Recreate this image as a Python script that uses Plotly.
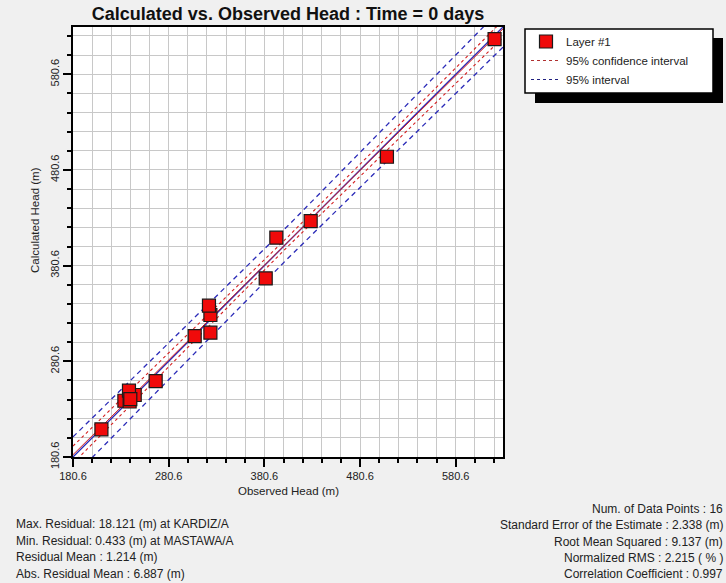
import plotly.graph_objects as go

# ---------------- data ----------------
observed = [210.3, 234.3, 239.8, 245.1, 239.1, 267.0, 307.8, 324.2, 324.2, 322.7,
            382.0, 393.1, 429.0, 508.7, 621.2, 240.5]
calculated = [209.5, 239.4, 238.6, 245.4, 249.9, 260.0, 307.0, 310.5, 329.0, 338.7,
              367.3, 409.8, 427.2, 494.4, 617.4, 241.0]

axis_min = 180.6
axis_max = 630.0
tick_vals = [180.6, 280.6, 380.6, 480.6, 580.6]
tick_text = ["180.6", "280.6", "380.6", "480.6", "580.6"]

# reference lines (x positions and offsets from the 1:1 line)
line_x = [180.6, 405.0, 630.0]
regression_y = [183.0, 405.5, 628.0]
conf_offset = [9.0, 5.0, 9.0]        # 95% confidence interval
interval_offset = [21.0, 17.0, 21.0]  # 95% interval

stats_left = ["Max. Residual: 18.121 (m) at KARDIZ/A",
              "Min. Residual: 0.433 (m) at MASTAWA/A",
              "Residual Mean : 1.214 (m)",
              "Abs. Residual Mean : 6.887 (m)"]
stats_right = ["Num. of Data Points : 16",
               "Standard Error of the Estimate : 2.338 (m)",
               "Root Mean Squared : 9.137 (m)",
               "Normalized RMS : 2.215 ( % )",
               "Correlation Coefficient : 0.997"]

# ---------------- layout geometry ----------------
W, H = 726, 583
L, R, T, B = 73, 503, 27, 457
PW, PH = R - L, B - T

def px(x):
    return (x - L) / PW

def py(y):
    return (B - y) / PH

FONT = "Arial, Liberation Sans, sans-serif"
BLUE = "#2b2bb8"
RED = "#d42020"

fig = go.Figure()

# 95% interval (blue dashed)
for sgn in (1, -1):
    fig.add_trace(go.Scatter(
        x=line_x, y=[x + sgn * o for x, o in zip(line_x, interval_offset)],
        mode="lines", line=dict(color=BLUE, width=1.3, dash="5px,4px"),
        name="95% interval", showlegend=False, hoverinfo="skip"))
# 95% confidence interval (red dashed)
for sgn in (1, -1):
    fig.add_trace(go.Scatter(
        x=line_x, y=[y + sgn * o for y, o in zip(regression_y, conf_offset)],
        mode="lines", line=dict(color=RED, width=1.1, dash="3px,3px"),
        name="95% confidence interval", showlegend=False, hoverinfo="skip"))
# 1:1 line and regression
fig.add_trace(go.Scatter(x=[axis_min, axis_max], y=[axis_min, axis_max], mode="lines",
                         line=dict(color=BLUE, width=1.3), showlegend=False, hoverinfo="skip"))
fig.add_trace(go.Scatter(x=line_x, y=regression_y, mode="lines",
                         line=dict(color=RED, width=1.0), showlegend=False, hoverinfo="skip"))

# data points
fig.add_trace(go.Scatter(
    x=observed, y=calculated, mode="markers", name="Layer #1",
    marker=dict(symbol="square", size=13, color="#f00a0a",
                line=dict(color="#1a1a1a", width=1.2))))

# legend-only entries
fig.add_trace(go.Scatter(x=[None], y=[None], mode="lines", name="95% confidence interval",
                         line=dict(color="#b03030", width=1.2, dash="3px,3px")))
fig.add_trace(go.Scatter(x=[None], y=[None], mode="lines", name="95% interval",
                         line=dict(color="#202080", width=1.2, dash="3px,3px")))

axis_common = dict(
    range=[axis_min, axis_max], tickmode="array", tickvals=tick_vals, ticktext=tick_text,
    ticks="outside", ticklen=8, tickwidth=1.5, tickcolor="black",
    showline=True, linecolor="black", linewidth=1.5, mirror=True,
    showgrid=True, gridcolor="#c8c8c8", gridwidth=1, zeroline=False,
    minor=dict(tick0=180.6, dtick=20, ticks="outside", ticklen=4, tickcolor="black",
               showgrid=True, gridcolor="#c8c8c8", gridwidth=1),
    tickfont=dict(family=FONT, size=11, color="#222"),
    automargin=False, fixedrange=True)

fig.update_xaxes(**axis_common)
fig.update_yaxes(**axis_common, tickangle=-90)

annotations = [
    dict(text="Observed Head (m)", x=px(288), y=py(491), xref="paper", yref="paper",
         xanchor="center", yanchor="middle",
         showarrow=False, font=dict(family=FONT, size=11.5, color="#222")),
    dict(text="Calculated Head (m)", x=px(35), y=py(220), xref="paper", yref="paper",
         xanchor="center", yanchor="middle",
         showarrow=False, textangle=-90, font=dict(family=FONT, size=11.5, color="#222")),
]
for i, t in enumerate(stats_left):
    annotations.append(dict(text=t, x=px(14), y=py(524 + i * 16.5), xref="paper", yref="paper",
                            xanchor="left", yanchor="middle", showarrow=False,
                            font=dict(family=FONT, size=12, color="#222")))
for i, t in enumerate(stats_right):
    annotations.append(dict(text=t, x=px(725), y=py(509 + i * 16.3), xref="paper", yref="paper",
                            xanchor="right", yanchor="middle", showarrow=False,
                            font=dict(family=FONT, size=12, color="#222")))

shapes = [
    # legend shadow and box
    dict(type="rect", xref="paper", yref="paper", layer="below",
         x0=px(535), x1=px(723), y0=py(103), y1=py(38),
         fillcolor="black", line=dict(width=0)),
    dict(type="rect", xref="paper", yref="paper", layer="below",
         x0=px(525), x1=px(713), y0=py(93), y1=py(29),
         fillcolor="white", line=dict(color="black", width=1.5)),
]

fig.update_layout(
    width=W, height=H,
    margin=dict(l=L, r=W - R, t=T, b=H - B, pad=0),
    paper_bgcolor="#f0f0f0", plot_bgcolor="white",
    title=dict(text="<b>Calculated vs. Observed Head : Time = 0 days</b>",
               x=288 / W, xanchor="center",
               y=1 - 14 / H, yanchor="middle", yref="container",
               font=dict(family=FONT, size=18, color="#111")),
    legend=dict(x=px(526), y=py(27), xanchor="left", yanchor="top",
                bgcolor="rgba(0,0,0,0)", borderwidth=0,
                font=dict(family=FONT, size=11.5, color="#222"),
                tracegroupgap=0, itemwidth=30),
    annotations=annotations, shapes=shapes, showlegend=True,
)

fig.write_html("out.html", config={"displayModeBar": False})

# remove default page margin so the figure sits at the window origin
with open("out.html", "r", encoding="utf-8") as f:
    html = f.read()
html = html.replace("<head>", "<head><style>html,body{margin:0;padding:0;overflow:hidden;}</style>", 1)
with open("out.html", "w", encoding="utf-8") as f:
    f.write(html)
